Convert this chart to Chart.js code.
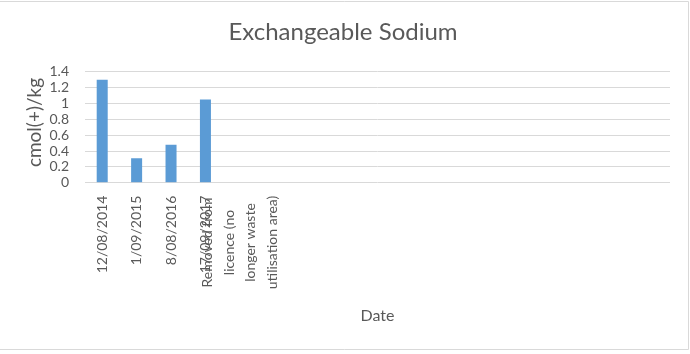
<!DOCTYPE html>
<html>
<head>
<meta charset="utf-8">
<script src="https://cdn.jsdelivr.net/npm/chart.js@4/dist/chart.umd.min.js"></script>
<style>
  html, body { margin: 0; padding: 0; background: #ffffff; }
  canvas { display: block; }
</style>
</head>
<body>
<canvas id="c" width="690" height="354"></canvas>
<script>
// ---- data ----
const chartTitle = 'Exchangeable Sodium';
const yAxisTitle = 'cmol(+)/kg';
const xAxisTitle = 'Date';
const categories = [
  '12/08/2014',
  '1/09/2015',
  '8/08/2016',
  '17/09/2017',
  ['Removed from', 'licence (no', 'longer waste', 'utilisation area)'],
  '', '', '', '', '', '', '', '', '', '', '', ''
];
const sodiumValues = [1.3, 0.31, 0.48, 1.05, null, null, null, null, null, null, null, null, null, null, null, null, null];
const yTickValues = [0, 0.2, 0.4, 0.6, 0.8, 1, 1.2, 1.4];

// ---- style ----
const FONT = 'Lato';
const TEXT = '#595959';
const GRID = '#d9d9d9';
const BAR = '#5B9BD5';

const labelPlugin = {
  id: 'customLabels',
  afterDraw(chart) {
    const ctx = chart.ctx;
    const xs = chart.scales.x;
    const area = chart.chartArea;
    ctx.save();
    ctx.fillStyle = TEXT;
    // chart title, centred on the whole chart box
    ctx.font = '24px ' + FONT;
    ctx.textAlign = 'center';
    ctx.textBaseline = 'middle';
    ctx.fillText(chartTitle, 343, 32.5);

    ctx.font = '14px ' + FONT;
    const yTop = area.bottom + 13;
    const lineGap = 21.5;
    categories.forEach((lab, i) => {
      if (!lab || (Array.isArray(lab) && lab.length === 0)) return;
      const x0 = xs.getPixelForValue(i);
      const lines = Array.isArray(lab) ? lab : [lab];
      const maxW = Math.max(...lines.map(l => ctx.measureText(l).width));
      lines.forEach((l, j) => {
        const x = x0 + (j - (lines.length - 1) / 2) * lineGap;
        ctx.save();
        ctx.translate(x, yTop);
        ctx.rotate(-Math.PI / 2);
        if (lines.length === 1) {
          ctx.textAlign = 'right';
          ctx.fillText(l, 0, 0);
        } else {
          ctx.textAlign = 'center';
          ctx.fillText(l, -maxW / 2, 0);
        }
        ctx.restore();
      });
    });
    // y axis title
    ctx.save();
    ctx.font = '19px ' + FONT;
    ctx.textAlign = 'center';
    ctx.translate(35, 122.5);
    ctx.rotate(-Math.PI / 2);
    ctx.fillText(yAxisTitle, 0, 0);
    ctx.restore();
    // outer border
    ctx.strokeStyle = '#d9d9d9';
    ctx.lineWidth = 1;
    ctx.beginPath();
    ctx.moveTo(0, 1.5); ctx.lineTo(688.5, 1.5); ctx.lineTo(688.5, 349.5); ctx.lineTo(0, 349.5);
    ctx.stroke();
    ctx.restore();
  }
};

new Chart(document.getElementById('c'), {
  type: 'bar',
  data: {
    labels: categories,
    datasets: [{
      label: 'Exchangeable Sodium',
      data: sodiumValues,
      backgroundColor: BAR,
      borderWidth: 0,
      barPercentage: 0.32,
      categoryPercentage: 1.0
    }]
  },
  options: {
    responsive: false,
    animation: false,
    devicePixelRatio: 1,
    layout: { padding: { left: 0, right: 20, top: 0, bottom: 0 } },
    plugins: {
      legend: { display: false },
      tooltip: { enabled: false },
      title: {
        // reserves the title band; the text itself is drawn by the plugin
        display: true,
        text: chartTitle,
        color: 'rgba(0,0,0,0)',
        font: { family: FONT, size: 24, weight: 'normal' },
        padding: { top: 18, bottom: 25 }
      }
    },
    scales: {
      x: {
        grid: { display: false },
        border: { display: false },
        ticks: { display: false },
        title: {
          display: true,
          text: xAxisTitle,
          color: TEXT,
          font: { family: FONT, size: 16 },
          padding: { top: 0, bottom: 28.5 }
        },
        afterFit(s) { s.height = 354 - 182.7; }
      },
      y: {
        min: 0,
        max: 1.4,
        afterBuildTicks(s) { s.ticks = yTickValues.map(v => ({ value: v })); },
        ticks: {
          color: TEXT,
          font: { family: FONT, size: 14 },
          padding: 16,
          autoSkip: false,
          callback: v => String(+Number(v).toFixed(1))
        },
        grid: { color: GRID, drawTicks: false, lineWidth: 1 },
        border: { display: false },
        afterFit(s) { s.width = 85; }
      }
    }
  },
  plugins: [labelPlugin]
});
</script>
</body>
</html>
